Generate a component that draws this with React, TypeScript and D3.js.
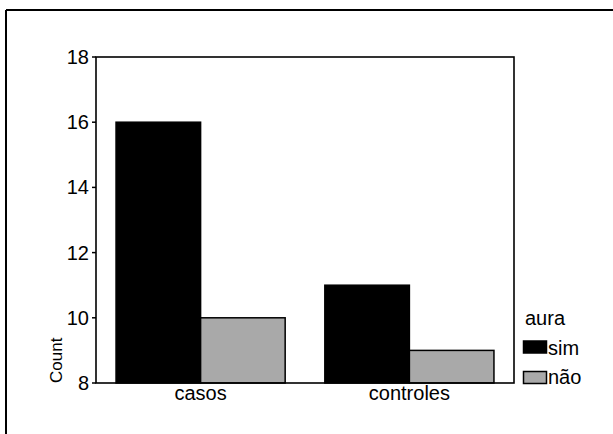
import React from "react";
import * as d3 from "d3";

const categories = ["casos", "controles"];
const seriesNames = ["sim", "não"];
const simValues = [16, 11];
const naoValues = [10, 9];
const yTicks = [8, 10, 12, 14, 16, 18];
const colors = ["#000000", "#a9a9a9"];

const W = 613;
const H = 434;
const left = 96, right = 514, top = 57, bottom = 383;
const FONT = "'Liberation Sans', Arial, sans-serif";

export default function App() {
  const x = d3.scaleBand<string>().domain(categories).range([left, right]).paddingInner(0.19).paddingOuter(0.096);
  const xi = d3.scaleBand<string>().domain(seriesNames).range([0, x.bandwidth()]);
  const y = d3.scaleLinear().domain([8, 18]).range([bottom, top]);
  const values = [simValues, naoValues];

  return (
    <div style={{ position: "fixed", left: 0, top: 0 }}>
      <svg width={W} height={H} style={{ display: "block", background: "#fff" }} fontFamily={FONT}>
        <rect x={0} y={0} width={W} height={H} fill="#fff" />
        {/* outer frame (top & left) */}
        <line x1={6} y1={10} x2={W} y2={10} stroke="#000" strokeWidth={2} />
        <line x1={6} y1={10} x2={6} y2={H} stroke="#000" strokeWidth={2} />
        {/* bars */}
        {categories.map((c, ci) =>
          seriesNames.map((s, si) => {
            const v = values[si][ci];
            const bx = (x(c) as number) + (xi(s) as number);
            return (
              <rect
                key={c + s}
                x={bx}
                y={y(v)}
                width={xi.bandwidth()}
                height={y(8) - y(v)}
                fill={colors[si]}
                stroke="#000"
                strokeWidth={1.5}
              />
            );
          })
        )}
        {/* plot frame */}
        <rect x={left} y={top} width={right - left} height={bottom - top} fill="none" stroke="#000" strokeWidth={1.6} />
        {/* y ticks */}
        {yTicks.map((t) => (
          <g key={t}>
            <line x1={left - 4} x2={left} y1={y(t)} y2={y(t)} stroke="#000" strokeWidth={1.5} />
            <text x={left - 7} y={y(t) + 7} textAnchor="end" fontSize={20} fill="#000">
              {t}
            </text>
          </g>
        ))}
        {/* y label */}
        <text transform={`translate(62,383) rotate(-90)`} fontSize={17} fill="#000">
          Count
        </text>
        {/* x labels */}
        {categories.map((c) => (
          <text key={c} x={(x(c) as number) + x.bandwidth() / 2} y={400} textAnchor="middle" fontSize={20} fill="#000">
            {c}
          </text>
        ))}
        {/* legend */}
        <text x={525} y={325} fontSize={20} fill="#000">aura</text>
        {seriesNames.map((s, i) => (
          <g key={s}>
            <rect x={523.5} y={341 + i * 30.5} width={23} height={12} fill={colors[i]} stroke="#000" strokeWidth={1.5} />
            <text x={548} y={355 + i * 29} fontSize={20} fill="#000">{s}</text>
          </g>
        ))}
      </svg>
    </div>
  );
}
